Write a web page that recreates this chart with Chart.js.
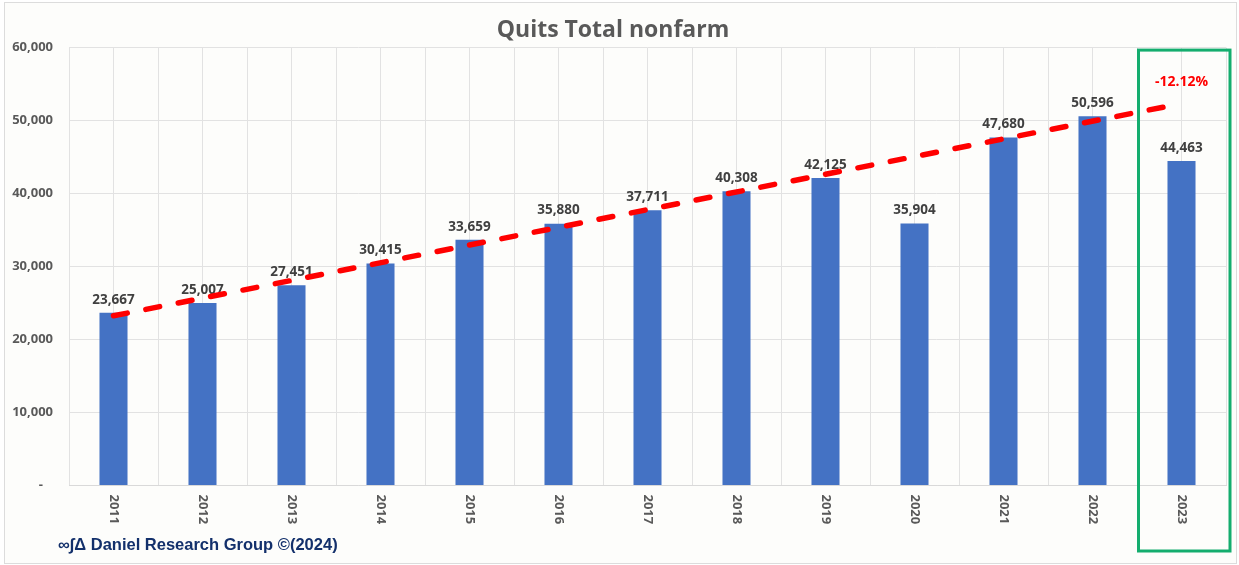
<!DOCTYPE html>
<html><head><meta charset="utf-8">
<script src="https://cdn.jsdelivr.net/npm/chart.js@4/dist/chart.umd.min.js"></script>
<style>
html,body{margin:0;padding:0;background:#fff;}
#wrap{position:relative;width:1239px;height:565px;}
#frame{position:absolute;left:4px;top:2px;width:1233px;height:562px;border:1px solid #dcdcdc;background:#fdfdfb;box-sizing:border-box;}
canvas{position:absolute;left:0;top:0;}
</style></head><body>
<div id="wrap"><div id="frame"></div><canvas id="c" width="1239" height="565"></canvas></div>
<script>
const years = ['2011','2012','2013','2014','2015','2016','2017','2018','2019','2020','2021','2022','2023'];
const quits = [23667,25007,27451,30415,33659,35880,37711,40308,42125,35904,47680,50596,44463];
const trendValues = [23250,null,null,null,null,null,null,null,null,null,null,null,52340];
const yTickValues = [0,10000,20000,30000,40000,50000,60000];
const titleText = 'Quits Total nonfarm';
const changeLabel = '-12.12%';
const sourceText = '∞∫Δ Daniel Research Group ©(2024)';

Chart.defaults.font.family = '"Open Sans", sans-serif';
const gridColor = '#e2e2e2';
const fmt = v => v.toLocaleString('en-US');

const overlay = {
  id: 'overlay',
  afterDatasetDraw(chart, args) {
    if (args.index !== 1) return;
    const ctx = chart.ctx;
    const meta = chart.getDatasetMeta(1);
    ctx.save();
    ctx.font = 'bold 13.5px "Open Sans", sans-serif';
    ctx.fillStyle = '#404040';
    ctx.textAlign = 'center';
    ctx.textBaseline = 'middle';
    meta.data.forEach((bar, i) => {
      ctx.fillText(fmt(quits[i]), bar.x, bar.y - 13);
    });
    ctx.restore();
  },
  afterDatasetsDraw(chart) {
    const ctx = chart.ctx;
    const area = chart.chartArea;
    const xs = chart.scales.x;
    const meta = chart.getDatasetMeta(1);
    ctx.save();
    ctx.textAlign = 'center';
    ctx.textBaseline = 'middle';
    // change label
    const last = meta.data[meta.data.length - 1];
    ctx.font = 'bold 14px "Open Sans", sans-serif';
    ctx.fillStyle = '#ff0000';
    ctx.fillText(changeLabel, last.x, area.top + 34);
    // x labels rotated clockwise
    ctx.font = 'bold 13px "Open Sans", sans-serif';
    ctx.fillStyle = '#595959';
    ctx.textAlign = 'left';
    years.forEach((y, i) => {
      const x = xs.getPixelForTick(i);
      ctx.save();
      ctx.translate(x, area.bottom + 9);
      ctx.rotate(Math.PI / 2);
      ctx.fillText(y, 0, 0);
      ctx.restore();
    });
    // highlight box
    const prev = meta.data[meta.data.length - 2];
    const left = (prev.x + last.x) / 2 + 1.5;
    const right = area.right + 4;
    const top = area.top + 2.5;
    const bottom = 551;
    ctx.strokeStyle = '#14ad6e';
    ctx.lineWidth = 3;
    ctx.strokeRect(left, top, right - left, bottom - top);
    // source
    ctx.font = 'bold 16.5px "Liberation Sans", Arial, sans-serif';
    ctx.fillStyle = '#13306b';
    ctx.textAlign = 'left';
    ctx.fillText(sourceText, 58, 545);
    ctx.restore();
  }
};

new Chart(document.getElementById('c'), {
  type: 'bar',
  data: {
    labels: years,
    datasets: [
      {
        type: 'line',
        data: trendValues,
        spanGaps: true,
        borderColor: '#ff0000',
        borderWidth: 5.5,
        borderDash: [14, 19],
        borderCapStyle: 'round',
        pointRadius: 0,
        tension: 0,
        order: 0
      },
      {
        type: 'bar',
        data: quits,
        backgroundColor: '#4472c4',
        categoryPercentage: 1,
        barPercentage: 0.315,
        order: 1
      }
    ]
  },
  options: {
    responsive: false,
    animation: false,
    layout: { padding: { left: 0, right: 13, top: 0, bottom: 0 } },
    plugins: {
      legend: { display: false },
      tooltip: { enabled: false },
      title: {
        display: true,
        text: titleText,
        color: '#595959',
        font: { size: 23, weight: 'bold' },
        padding: { top: 17, bottom: 3 }
      }
    },
    scales: {
      x: {
        offset: true,
        grid: { offset: true, color: gridColor, drawTicks: false },
        border: { display: true, color: '#d9d9d9' },
        ticks: { display: false },
        afterFit(s) { s.height = 79.5; }
      },
      x2: {
        type: 'category',
        labels: years,
        position: 'bottom',
        offset: true,
        grid: { offset: false, color: gridColor, drawTicks: false },
        border: { display: false },
        ticks: { display: false },
        afterFit(s) { s.height = 0; }
      },
      y: {
        min: 0,
        max: 60000,
        afterBuildTicks(s) { s.ticks = yTickValues.map(v => ({ value: v })); },
        grid: { color: gridColor, drawTicks: false },
        border: { display: false },
        ticks: {
          padding: 16,
          color: '#595959',
          font: { size: 13, weight: 'bold' },
          callback: v => v === 0 ? '-   ' : fmt(v)
        },
        afterFit(s) { s.width = 69; }
      }
    }
  },
  plugins: [overlay]
});
</script>
</body></html>
